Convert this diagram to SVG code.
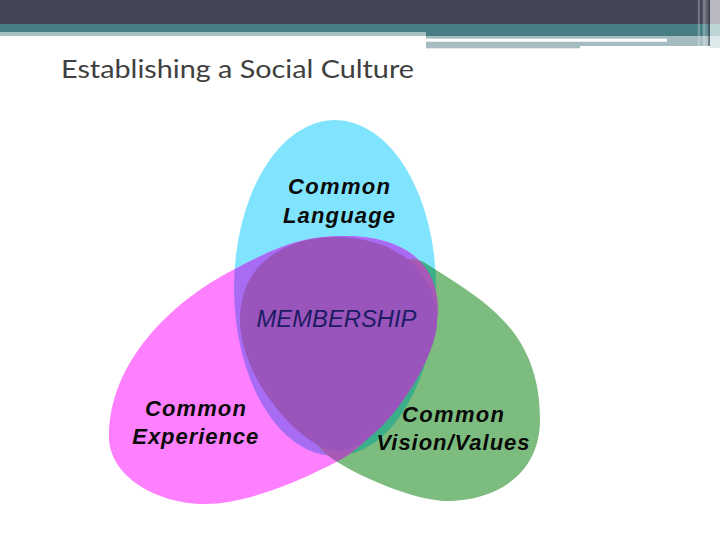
<svg xmlns="http://www.w3.org/2000/svg" xmlns:xlink="http://www.w3.org/1999/xlink" width="720" height="540" viewBox="0 0 720 540">
<style>
  .lbl { font-family: "Liberation Sans", Arial, sans-serif; font-style: italic; font-weight: bold; font-size: 22px; fill: #0A0A0A; text-anchor: middle; }
  .mem { font-family: "Liberation Sans", Arial, sans-serif; font-style: italic; font-weight: normal; font-size: 23px; fill: #1C1C62; text-anchor: middle; }
  .ttl { font-family: Lato, "Liberation Sans", sans-serif; font-size: 25px; fill: #404040; }
</style>
<defs>
  <ellipse id="shape-blue" cx="335" cy="288" rx="101" ry="168"/>
  <path id="shape-pink" d="M109,437 C109,362 171,302 233,270 C277.5,247 300,236 345,236 C400,236 438,260 438,310 C438,350 384,437 340,460 C295.8,483.3 245,504 205,504 C155,504 109,475 109,437 Z"/>
  <path id="shape-green" d="M425,263 C484,300.5 540,330 540,420 C540,475 495,501 447,501 C415,501 354,475 330,457 C310,442 285,400 288,360 C290,310 391,242 425,263 Z"/>
  <clipPath id="clip-blue"><use xlink:href="#shape-blue"/></clipPath>
  <clipPath id="clip-pink"><use xlink:href="#shape-pink"/></clipPath>
</defs>

<rect x="0" y="0" width="720" height="540" fill="#FFFFFF"/>

<g id="header">
  <rect x="0" y="0" width="720" height="24" fill="#434456"/>
  <rect x="0" y="24" width="720" height="8" fill="#467E84"/>
  <rect x="0" y="32" width="426" height="4" fill="#A7C0C4"/>
  <rect x="426" y="32" width="284" height="4" fill="#467E84"/>
  <rect x="426" y="36" width="284" height="10" fill="#A5BCC0"/>
  <rect x="426" y="46" width="154" height="2.3" fill="#A5BCC0"/>
  <rect x="426" y="38.7" width="241" height="3" fill="#FFFFFF"/>
  <rect x="697.7" y="0" width="2.3" height="46" fill="#FFFFFF" opacity="0.25"/>
  <rect x="702.7" y="0" width="3" height="46" fill="#FFFFFF" opacity="0.3"/>
  <rect x="705.7" y="0" width="2.6" height="46" fill="#FFFFFF" opacity="0.15"/>
  <rect x="708.3" y="0" width="1.7" height="46" fill="#3A3A4A" opacity="0.6"/>
  <rect x="710" y="0" width="10" height="24" fill="#B9B8C3"/>
  <rect x="710" y="24" width="10" height="12" fill="#BCD6D8"/>
  <rect x="710" y="36" width="10" height="12" fill="#DDE9EA"/>
</g>

<text class="ttl" x="61" y="77.5" textLength="353" lengthAdjust="spacingAndGlyphs">Establishing a Social Culture</text>

<g id="node-common-language">
  <use xlink:href="#shape-blue" fill="#80E4FF"/>
  <text class="lbl" x="339" y="194.3" textLength="102" lengthAdjust="spacing">Common</text>
  <text class="lbl" x="339" y="222.7" textLength="112" lengthAdjust="spacing">Language</text>
</g>

<g id="node-common-experience">
  <use xlink:href="#shape-pink" fill="#FF80FF"/>
  <use xlink:href="#shape-pink" fill="#A86CF4" clip-path="url(#clip-blue)"/>
  <text class="lbl" x="195.4" y="415.7" textLength="101" lengthAdjust="spacing">Common</text>
  <text class="lbl" x="195.3" y="444.3" textLength="126" lengthAdjust="spacing">Experience</text>
</g>

<g id="node-common-vision-values">
  <use xlink:href="#shape-green" fill="#7CBC7E"/>
  <use xlink:href="#shape-green" fill="#3BAE8A" clip-path="url(#clip-blue)"/>
  <use xlink:href="#shape-green" fill="#A859B6" clip-path="url(#clip-pink)"/>
  <text class="lbl" x="453" y="422.3" textLength="102" lengthAdjust="spacing">Common</text>
  <text class="lbl" x="453" y="450" textLength="153" lengthAdjust="spacing">Vision/Values</text>
</g>

<g id="node-membership">
  <path d="M240,320 C240,260 290,237 335,237 C395,237 437,270 437,322 C437,360 380,449 340,451 C305,453 240,380 240,320 Z" fill="#9A55BC"/>
  <text class="mem" x="336.5" y="327.3" textLength="160" lengthAdjust="spacingAndGlyphs">MEMBERSHIP</text>
</g>

<g id="connectors"/>
</svg>
